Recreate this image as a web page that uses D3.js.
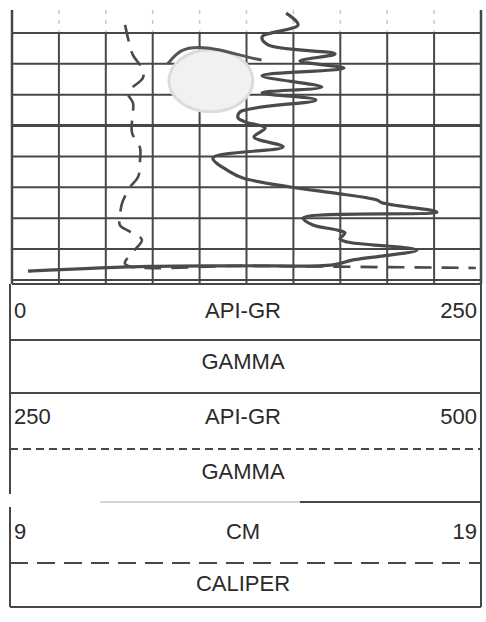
<!DOCTYPE html>
<html>
<head>
<meta charset="utf-8">
<script src="https://cdn.jsdelivr.net/npm/d3@7"></script>
<style>
  html, body { margin: 0; padding: 0; background: #fff; }
  svg { display: block; }
  text { font-family: "Liberation Sans", Arial, sans-serif; fill: #2a2a2a; }
</style>
</head>
<body>
<svg id="chart" width="486" height="622"></svg>
<script>
// ---------- data ----------
// Gamma ray trace (API units, 0-250 scale) vs depth (grid rows)
const gammaAPI = [146.1,152.5,133.3,136.5,172.2,153.5,177.0,133.3,165.2,133.3,162.0,121.5,120.5,124.2,134.9,129.0,144.5,107.1,116.2,123.1,148.2,171.1,194.6,197.2,226.5,155.1,160.4,173.2,177.5,174.8,178.6,215.9,181.8,171.1,123.1,73.6,8.5];
const gammaDepth = [0.36,0.74,1.13,1.39,1.68,1.91,2.14,2.39,2.75,2.94,3.17,3.56,3.75,3.88,4.08,4.37,4.69,5.05,5.50,5.70,5.99,6.18,6.41,6.50,6.80,6.99,7.22,7.38,7.48,7.67,7.77,8.03,8.35,8.51,8.54,8.56,8.71];
// Caliper trace (cm, 9-19 scale) vs depth
const caliperCM = [11.41,11.52,11.58,11.79,11.79,11.47,11.58,11.56,11.56,11.73,11.73,11.69,11.52,11.35,11.30,11.30,11.52,11.77,11.56,11.41,14.07,18.89];
const caliperDepth = [0.74,1.46,1.72,2.20,2.46,2.94,3.27,3.82,4.24,4.72,5.11,5.66,5.99,6.50,6.96,7.22,7.44,7.70,8.12,8.48,8.54,8.61];
// Header tracks: [left scale label, unit, right scale label, curve name]
const headerLeft = ["0", "250", "9"];
const headerUnit = ["API-GR", "API-GR", "CM"];
const headerRight = ["250", "500", "19"];
const headerName = ["GAMMA", "GAMMA", "CALIPER"];
const gridDepthTicks = [1,2,3,4,5,6,7,8,9];
const gammaTicks = d3.range(0, 251, 25);

// ---------- scales ----------
const L = 12, R = 481;
const x = d3.scaleLinear().domain([0, 250]).range([L, R]);
const xCal = d3.scaleLinear().domain([9, 19]).range([L, R]);
const y = d3.scaleLinear().domain([0, 9]).range([2, 280]);

const svg = d3.select("#chart");
const ink = "#474747";

// ---------- grid ----------
const grid = svg.append("g");
grid.selectAll("line.vtop").data(gammaTicks).join("line")
  .attr("x1", d => x(d)).attr("x2", d => x(d))
  .attr("y1", 10).attr("y2", y(1))
  .attr("stroke", d => (d === 0 || d === 250) ? ink : "#c8c8c8")
  .attr("stroke-width", d => (d === 0 || d === 250) ? 2.5 : 1.5)
  .attr("stroke-dasharray", d => (d === 0 || d === 250) ? null : "4,6");
grid.selectAll("line.v").data(gammaTicks).join("line")
  .attr("x1", d => x(d)).attr("x2", d => x(d))
  .attr("y1", y(1)).attr("y2", y(9) + 4)
  .attr("stroke", ink)
  .attr("stroke-width", d => (d === 0 || d === 250) ? 2.5 : 2);
grid.selectAll("line.h").data(gridDepthTicks).join("line")
  .attr("x1", L).attr("x2", R)
  .attr("y1", d => y(d)).attr("y2", d => y(d))
  .attr("stroke", ink)
  .attr("stroke-width", d => d === 4 ? 3 : 2);
grid.append("line")
  .attr("x1", L).attr("x2", R).attr("y1", y(9) + 4).attr("y2", y(9) + 4)
  .attr("stroke", ink).attr("stroke-width", 2);

// ---------- stain (scan artifact) ----------
svg.append("ellipse")
  .attr("cx", x(106)).attr("cy", y(2.55))
  .attr("rx", 42).attr("ry", 31)
  .attr("fill", "#f1f1f1").attr("stroke", "#dcdcdc").attr("stroke-width", 3);
svg.append("path")
  .attr("d", d3.line().curve(d3.curveBasis)
    .x(d => x(d[0])).y(d => y(d[1]))([[83,2.0],[90,1.5],[100,1.45],[110,1.52],[125,1.78],[133,1.88]]))
  .attr("fill", "none").attr("stroke", "#555").attr("stroke-width", 3);

// ---------- curves ----------
const gammaPts = gammaAPI.map((v, i) => [v, gammaDepth[i]]);
const calPts = caliperCM.map((v, i) => [v, caliperDepth[i]]);

svg.append("path")
  .attr("d", d3.line().curve(d3.curveCatmullRom.alpha(0.5))
    .x(d => xCal(d[0])).y(d => y(d[1]))(calPts))
  .attr("fill", "none").attr("stroke", "#4a4a4a").attr("stroke-width", 2.6)
  .attr("stroke-dasharray", "17,10");

svg.append("path")
  .attr("d", d3.line().curve(d3.curveCatmullRom.alpha(0.5))
    .x(d => x(d[0])).y(d => y(d[1]))(gammaPts))
  .attr("fill", "none").attr("stroke", "#4a4a4a").attr("stroke-width", 3.2)
  .attr("stroke-linejoin", "round");

// ---------- header ----------
const hdr = svg.append("g").attr("stroke", ink).attr("stroke-width", 2).attr("fill", "none");
hdr.append("line").attr("x1", 10).attr("x2", 10).attr("y1", 284).attr("y2", 393);
hdr.append("line").attr("x1", R).attr("x2", R).attr("y1", 280).attr("y2", 607);
hdr.append("line").attr("x1", 10).attr("x2", R).attr("y1", 340).attr("y2", 340);
hdr.append("line").attr("x1", 10).attr("x2", R).attr("y1", 393).attr("y2", 393);
hdr.append("line").attr("x1", 10).attr("x2", 10).attr("y1", 393).attr("y2", 494);
hdr.append("line").attr("x1", 10).attr("x2", R).attr("y1", 449).attr("y2", 449)
  .attr("stroke-dasharray", "8,5");
hdr.append("line").attr("x1", 100).attr("x2", 300).attr("y1", 502).attr("y2", 502)
  .attr("stroke", "#d6d6d6");
hdr.append("line").attr("x1", 300).attr("x2", R).attr("y1", 502).attr("y2", 502);
hdr.append("line").attr("x1", 10).attr("x2", 10).attr("y1", 507).attr("y2", 607);
hdr.append("line").attr("x1", 10).attr("x2", R).attr("y1", 563).attr("y2", 563)
  .attr("stroke-dasharray", "18,9");
hdr.append("line").attr("x1", 10).attr("x2", R).attr("y1", 607).attr("y2", 607);

const rowY = [310, 416, 531];
const nameY = [361, 471, 583];
const fs = 22;
headerUnit.forEach((u, i) => {
  svg.append("text").attr("x", 14).attr("y", rowY[i]).attr("dy", "0.36em")
    .attr("font-size", fs).text(headerLeft[i]);
  svg.append("text").attr("x", 243).attr("y", rowY[i]).attr("dy", "0.36em")
    .attr("font-size", fs).attr("text-anchor", "middle").text(u);
  svg.append("text").attr("x", 477).attr("y", rowY[i]).attr("dy", "0.36em")
    .attr("font-size", fs).attr("text-anchor", "end").text(headerRight[i]);
  svg.append("text").attr("x", 243).attr("y", nameY[i]).attr("dy", "0.36em")
    .attr("font-size", fs).attr("text-anchor", "middle").text(headerName[i]);
});
</script>
</body>
</html>
